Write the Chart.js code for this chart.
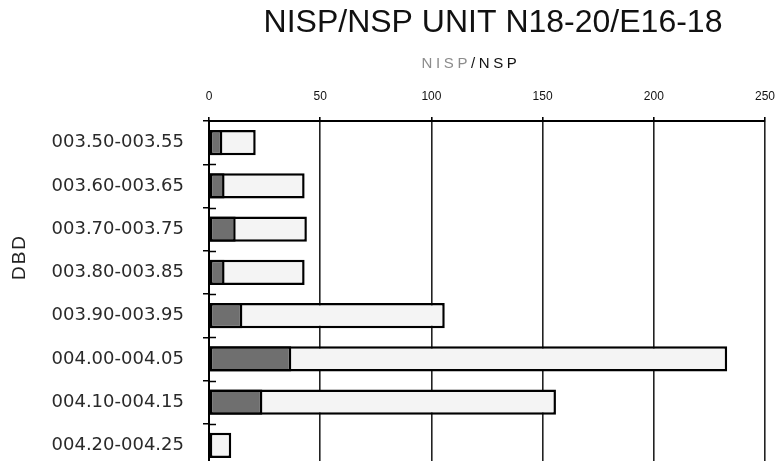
<!DOCTYPE html>
<html>
<head>
<meta charset="utf-8">
<script src="https://cdn.jsdelivr.net/npm/chart.js@4"></script>
<style>
  body { margin: 0; background: #fff; overflow: hidden; }
</style>
</head>
<body>
<canvas id="chart" width="777" height="468"></canvas>
<script>
const depths = [
  '003.50-003.55', '003.60-003.65', '003.70-003.75', '003.80-003.85',
  '003.90-003.95', '004.00-004.05', '004.10-004.15', '004.20-004.25'
];
const nisp = [6, 7, 12, 7, 15, 37, 24, 1];
const nsp = [21, 43, 44, 43, 106, 233, 156, 10];
const xTicks = [0, 50, 100, 150, 200, 250];

// title, NISP (grey) / NSP (black) caption and the DBD axis name
const captions = {
  id: 'captions',
  afterDraw(chart) {
    const { ctx, chartArea } = chart;
    const mid = (chartArea.left + chartArea.right) / 2;
    ctx.save();
    ctx.textBaseline = 'alphabetic';
    ctx.textAlign = 'center';
    ctx.fillStyle = '#111';
    ctx.font = '32px "Liberation Sans", Arial, sans-serif';
    ctx.fillText('NISP/NSP UNIT N18-20/E16-18', mid + 6, 32);

    ctx.textAlign = 'left';
    ctx.font = '15px "Liberation Sans", Arial, sans-serif';
    ctx.letterSpacing = '3.6px';
    const a = 'NISP', b = '/NSP';
    const wa = ctx.measureText(a).width;
    const wb = ctx.measureText(b).width;
    const x = mid - 16 - (wa + wb) / 2;
    ctx.fillStyle = '#8c8c8c';
    ctx.fillText(a, x, 68);
    ctx.fillStyle = '#111';
    ctx.fillText(b, x + wa, 68);

    ctx.translate(25, 258);
    ctx.rotate(-Math.PI / 2);
    ctx.textAlign = 'center';
    ctx.font = '19px "Liberation Sans", Arial, sans-serif';
    ctx.letterSpacing = '2px';
    ctx.fillStyle = '#222';
    ctx.fillText('DBD', 1, 0);
    ctx.restore();
  }
};

// category ticks that cross the axis line
const innerTicks = {
  id: 'innerTicks',
  afterDatasetsDraw(chart) {
    const { ctx, scales } = chart;
    const y = scales.y;
    ctx.save();
    ctx.strokeStyle = '#000';
    ctx.lineWidth = 1.5;
    for (let i = 1; i < depths.length; i++) {
      const py = Math.round(y.getPixelForValue(i - 0.5)) + 0.5;
      ctx.beginPath();
      ctx.moveTo(y.right, py);
      ctx.lineTo(y.right + 7, py);
      ctx.stroke();
    }
    ctx.restore();
  }
};

function noPadding(scale) {
  scale.paddingLeft = 0;
  scale.paddingRight = 0;
  scale.paddingTop = 0;
  scale.paddingBottom = 0;
}

new Chart(document.getElementById('chart'), {
  type: 'bar',
  data: {
    labels: depths,
    datasets: [
      {
        label: 'NISP',
        data: nisp,
        backgroundColor: '#6f6f6f',
        borderColor: '#000',
        borderWidth: 2.5,
        borderSkipped: false,
        barPercentage: 0.58,
        categoryPercentage: 1
      },
      {
        label: 'NSP',
        data: nsp,
        backgroundColor: '#f4f4f4',
        borderColor: '#000',
        borderWidth: 2.5,
        borderSkipped: false,
        barPercentage: 0.58,
        categoryPercentage: 1
      }
    ]
  },
  options: {
    indexAxis: 'y',
    responsive: false,
    animation: false,
    layout: { padding: { left: 0, right: 12, top: 0, bottom: 1 } },
    plugins: {
      legend: { display: false },
      tooltip: { enabled: false }
    },
    scales: {
      x: {
        position: 'top',
        min: 0,
        max: 250,
        afterBuildTicks(scale) {
          scale.ticks = xTicks.map(v => ({ value: v }));
        },
        afterFit(scale) {
          scale.height = 121;
          noPadding(scale);
        },
        ticks: {
          color: '#111',
          padding: 13,
          font: { family: '"Liberation Sans", Arial, sans-serif', size: 12 }
        },
        grid: {
          color: '#222',
          lineWidth: 1.6,
          tickLength: 4,
          tickColor: '#000'
        },
        border: { color: '#000', width: 2 }
      },
      y: {
        stacked: true,
        afterFit(scale) {
          scale.width = 209;
          noPadding(scale);
        },
        ticks: {
          color: '#2a2a2a',
          padding: 19,
          font: { family: '"DejaVu Sans", sans-serif', size: 18 }
        },
        grid: {
          offset: true,
          drawOnChartArea: false,
          tickLength: 6,
          tickColor: '#000',
          lineWidth: 1.5
        },
        border: { color: '#000', width: 2 }
      }
    }
  },
  plugins: [captions, innerTicks]
});
</script>
</body>
</html>
